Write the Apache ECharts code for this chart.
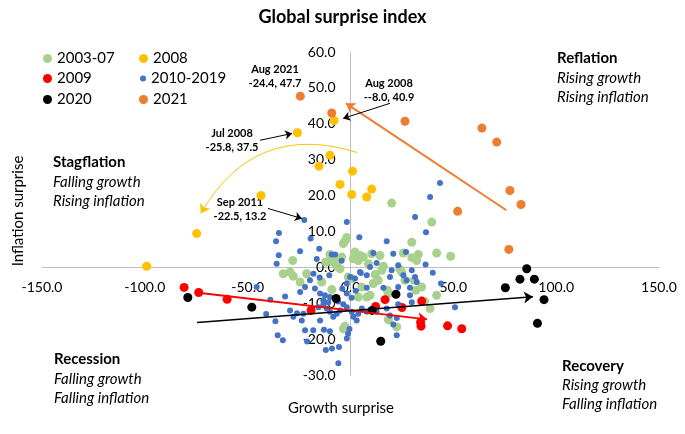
<!DOCTYPE html>
<html><head><meta charset="utf-8">
<script src="https://cdn.jsdelivr.net/npm/echarts@6/dist/echarts.min.js"></script>
<style>html,body{margin:0;padding:0;background:#fff}#c{width:685px;height:434px}</style>
</head><body><div id="c"></div>
<script>
const FONT = 'Lato, "Noto Sans", sans-serif';

// ---- axis ranges / ticks ----
const xRange = [-150, 150], xStep = 50;
const yRange = [-30, 60], yStep = 10;

// ---- series names ----
const seriesNames = ['2003-07', '2008', '2009', '2010-2019', '2020', '2021'];

// ---- data: [growth surprise, inflation surprise] ----
const data2003_07 = [
  [20.0,17.9],[39.5,12.6],[29.8,7.0],[-1.8,8.3],[-2.7,7.3],[41.9,4.0],[48.7,3.1],[33.0,3.6],
  [29.8,2.7],[32.2,1.9],[25.7,4.0],[2.2,4.3],[4.6,3.3],[3.8,1.9],[6.2,2.9],[1.4,2.4],
  [-10.0,3.6],[-8.4,2.7],[-5.9,1.9],[-4.3,2.9],[-28.1,1.9],[-32.7,-1.8],[-27.8,-2.5],[-29.4,-1.3],
  [-14.0,-4.1],[-9.1,-6.2],[-5.1,-0.4],[-6.7,0.3],[-1.1,-2.7],[0.6,-3.1],[3.8,-8.3],[7.9,-8.3],
  [9.5,-7.8],[15.2,-0.8],[16.0,0.3],[13.5,-3.6],[11.1,-4.5],[17.9,-6.4],[26.5,-3.6],[31.0,-3.6],
  [31.8,-6.4],[34.6,-5.5],[38.7,-11.5],[41.9,-7.8],[18.4,-14.6],[22.5,-16.6],[-2.7,-16.4],[-3.5,-17.1],
  [-24.5,-4.1],[8.7,1.0],[12.0,-2.0],[36.0,-9.5],[24.0,-0.5],[-12.0,1.5],[5.5,-5.5],[10.3,3.8],
  [14.3,3.3],[24.9,-1.3],[-21.3,-1.8],[18.4,-7.3],[-8.4,1.5],[-3.5,6.6]
];
const data2008 = [
  [-25.8,37.5],[-8.0,40.9],[-10.0,31.2],[-15.3,28.2],[1.0,26.8],[-5.1,23.1],
  [0.6,20.3],[7.9,19.6],[10.3,21.8],[-43.5,20.0],[-74.8,9.4],[-99.1,0.3]
];
const data2009 = [
  [-80.9,-5.6],[-73.8,-7.0],[-60.0,-8.9],[-19.2,-12.0],[12.2,-10.9],[16.8,-9.0],
  [25.0,-11.2],[34.6,-9.4],[34.1,-15.3],[34.3,-16.4],[47.2,-16.3],[54.1,-17.1]
];
const data2010_2019 = [
  [43.5,23.5],[38.7,19.6],[31.4,14.0],[36.7,9.8],[-22.5,13.2],[-1.8,12.6],[-34.8,9.6],[-36.2,7.3],
  [-19.4,8.0],[4.3,8.4],[-34.9,3.4],[-35.9,1.0],[-24.5,4.5],[-15.2,5.2],[-16.4,2.3],[-9.1,3.6],
  [-7.5,3.6],[-4.3,1.8],[17.6,7.3],[11.1,4.0],[20.8,3.8],[27.0,4.3],[23.2,0.6],[29.8,-0.8],
  [12.7,1.2],[9.5,0.1],[4.6,-1.3],[7.9,-2.2],[20.0,-0.8],[19.2,-2.7],[25.7,-2.2],[31.4,-2.7],
  [27.3,-3.6],[32.2,-4.1],[28.9,-5.7],[23.2,-5.5],[16.0,-5.7],[7.9,-5.7],[2.2,-3.1],[-0.2,-2.7],
  [-1.8,-4.5],[-10.3,-2.2],[-15.0,-2.8],[-19.7,-3.6],[-18.0,-1.8],[-31.8,-8.1],[-24.5,-6.9],[-17.3,-5.9],
  [-12.4,-7.8],[-10.0,-8.3],[-13.2,-9.2],[-10.8,-9.7],[-1.8,-7.3],[-45.6,-5.5],[-22.1,-5.5],[-14.8,-7.3],
  [-35.4,-18.9],[-32.9,-20.3],[-21.1,-20.7],[-22.1,-17.5],[-18.1,-17.5],[-14.8,-14.8],[-12.9,-17.4],[-10.0,-17.8],
  [-9.0,-22.6],[-5.6,-22.2],[-5.9,-26.7],[-1.2,-18.5],[-1.8,-19.8],[22.5,-18.9],[20.8,-15.9],[22.5,-14.1],
  [-12.0,-23.0],[-0.5,-17.2],[-29.4,-12.0],[-27.8,-13.8],[-26.0,-12.8],[-22.9,-12.9],[-23.7,-14.8],[-15.6,-11.1],
  [-13.2,-10.3],[-11.6,-11.5],[-10.0,-12.4],[-8.4,-13.8],[-6.7,-12.9],[-5.1,-12.0],[-1.8,-11.1],[0.6,-12.4],
  [1.4,-13.8],[3.0,-14.8],[3.8,-12.9],[5.5,-11.5],[-3.5,-10.3],[7.9,-12.4],[12.7,-12.4],[17.6,-11.5],
  [23.2,-10.3],[19.2,-13.4],[29.8,-9.7],[28.9,-7.8],[50.8,-11.1],[-41.0,-13.0],[-36.5,-15.0],[-39.0,-9.0],
  [-4.0,-6.0],[0.5,-8.5],[2.5,-6.5],[-6.0,-9.5],[40.0,-1.5],[44.0,-4.5],[36.5,0.8],[5.0,-1.6]
];
const data2020 = [
  [-79.1,-8.4],[-48.0,-11.1],[-7.0,-8.7],[10.5,-12.0],[22.1,-7.5],[14.7,-20.6],
  [85.7,-0.4],[82.4,-3.3],[89.4,-3.3],[75.3,-5.7],[94.1,-9.0],[90.9,-15.6]
];
const data2021 = [
  [-24.4,47.7],[-9.1,43.0],[26.5,40.7],[63.9,38.8],[71.1,34.9],[77.5,21.4],[82.9,17.5],[52.1,15.6],[77.0,5.0]
];

// ---- trend arrows (data coordinates: from -> to) ----
const trend2021 = [[75.8,15.9],[-2.2,45.7]];
const trend2009 = [[-75.1,-7.0],[37.2,-14.5]];
const trend2020 = [[-74.6,-15.4],[88.7,-8.2]];
const trend2008 = [[3.2,32.0],[-72.8,15.0]];
// callout arrows (data coordinates)
const calloutArrows = [
  [[19.2,45.7],[-3.6,41.5]],
  [[-44.0,35.4],[-28.4,37.3]],
  [[-40.1,16.4],[-23.6,13.6]]
];
// callout texts
const callouts = [
  {text:'Aug 2021\n-24.4, 47.7', x:275, y:76},
  {text:'Aug 2008\n--8.0, 40.9', x:389, y:90},
  {text:'Jul 2008\n-25.8, 37.5', x:232, y:140},
  {text:'Sep 2011\n-22.5, 13.2', x:240, y:209}
];
const quadrants = [
  {title:'Reflation', lines:['Rising growth','Rising inflation'], x:557, y:58, gap:[20,39]},
  {title:'Stagflation', lines:['Falling growth','Rising inflation'], x:53, y:162, gap:[20,39]},
  {title:'Recession', lines:['Falling growth','Falling inflation'], x:54, y:359, gap:[20,39]},
  {title:'Recovery', lines:['Rising growth','Falling inflation'], x:562, y:366, gap:[19,38]}
];

const colors = ['#a9d18e','#ffc000','#ff0000','#4472c4','#000000','#ed7d31'];
const sizes = [9,9,9,6,9,9];
const allData = [data2003_07, data2008, data2009, data2010_2019, data2020, data2021];

// grid geometry
const G = {left:42, right:26, top:52, bottom:59, w:685, h:434};
const gw = G.w - G.left - G.right, gh = G.h - G.top - G.bottom;
const zeroX = G.left + (0 - xRange[0]) / (xRange[1] - xRange[0]) * gw;
const zeroY = G.top + (yRange[1] - 0) / (yRange[1] - yRange[0]) * gh;

function arrowSeries(pair, color, width, curveness, size){
  return {
    type:'lines', coordinateSystem:'cartesian2d', silent:true, animation:false, z:15,
    symbol:['none','arrow'], symbolSize:size || 9,
    lineStyle:{color:color, width:width, opacity:1, curveness:curveness||0},
    data:[{coords:[pair[0], pair[1]]}]
  };
}

const series = seriesNames.map((n,i)=>({
  name:n, type:'scatter', data:allData[i], symbol:'circle', symbolSize:sizes[i],
  itemStyle:{color:colors[i], opacity:1}, z:2+i, animation:false
}));
series.push(arrowSeries(trend2021, '#ed7d31', 2));
series.push(arrowSeries(trend2009, '#ff0000', 2));
series.push(arrowSeries(trend2020, '#000000', 1.5));
series.push(arrowSeries(trend2008, '#ffc000', 1, -0.4));
calloutArrows.forEach(p=>series.push(arrowSeries(p, '#000000', 1, 0, 7)));

const legendPos = [[43,51],[139,51],[43,71],[140,71],[43,92],[139,92]];
const legends = seriesNames.map((n,i)=>({
  data:[n], left:legendPos[i][0], top:legendPos[i][1], orient:'vertical',
  icon:'circle', itemWidth:sizes[i], itemHeight:sizes[i], padding:0,
  selectedMode:false,
  textStyle:{fontFamily:FONT, fontSize:15, color:'#000'}
}));

const graphics = [];
quadrants.forEach(q=>{
  graphics.push({type:'text', x:q.x, y:q.y, style:{text:q.title, font:'bold 15px '+FONT, fill:'#000', textVerticalAlign:'middle'}});
  q.lines.forEach((l,j)=>graphics.push({type:'text', x:q.x, y:q.y+q.gap[j], style:{text:l, font:'italic 15px '+FONT, fill:'#000', textVerticalAlign:'middle'}}));
});
callouts.forEach(c=>graphics.push({type:'text', x:c.x, y:c.y, style:{text:c.text, font:'bold 11px '+FONT, lineHeight:14, fill:'#000', textAlign:'center', textVerticalAlign:'middle'}}));
graphics.push({type:'text', x:341, y:408, style:{text:'Growth surprise', font:'15px '+FONT, fill:'#000', textAlign:'center', textVerticalAlign:'middle'}});
graphics.push({type:'text', x:18, y:211, rotation:Math.PI/2, style:{text:'Inflation surprise', font:'15px '+FONT, fill:'#000', textAlign:'center', textVerticalAlign:'middle'}});

const chart = echarts.init(document.getElementById('c'), null, {renderer:'canvas'});
chart.setOption({
  animation:false,
  backgroundColor:'#fff',
  title:{text:'Global surprise index', left:'center', top:3, textStyle:{fontFamily:FONT, fontSize:18, fontWeight:'bold', color:'#000'}},
  legend:legends,
  grid:{left:G.left, right:G.right, top:G.top, bottom:G.bottom, containLabel:false},
  xAxis:{type:'value', min:xRange[0], max:xRange[1], interval:xStep, position:'bottom',
    offset:-(G.top + gh - zeroY),
    axisLine:{onZero:false, lineStyle:{color:'#bfbfbf', width:1}}, axisTick:{show:false}, splitLine:{show:false},
    axisLabel:{margin:13, fontFamily:FONT, fontSize:14, color:'#000', formatter:v=>v.toFixed(1), showMinLabel:true, showMaxLabel:true}},
  yAxis:{type:'value', min:yRange[0], max:yRange[1], interval:yStep, position:'left',
    offset:-(zeroX - G.left),
    axisLine:{show:true, onZero:false, lineStyle:{color:'#bfbfbf', width:1}}, axisTick:{show:false}, splitLine:{show:false},
    axisLabel:{margin:15, fontFamily:FONT, fontSize:14, color:'#000', formatter:v=>v.toFixed(1)}},
  graphic:graphics,
  series:series
});
</script>
</body></html>
